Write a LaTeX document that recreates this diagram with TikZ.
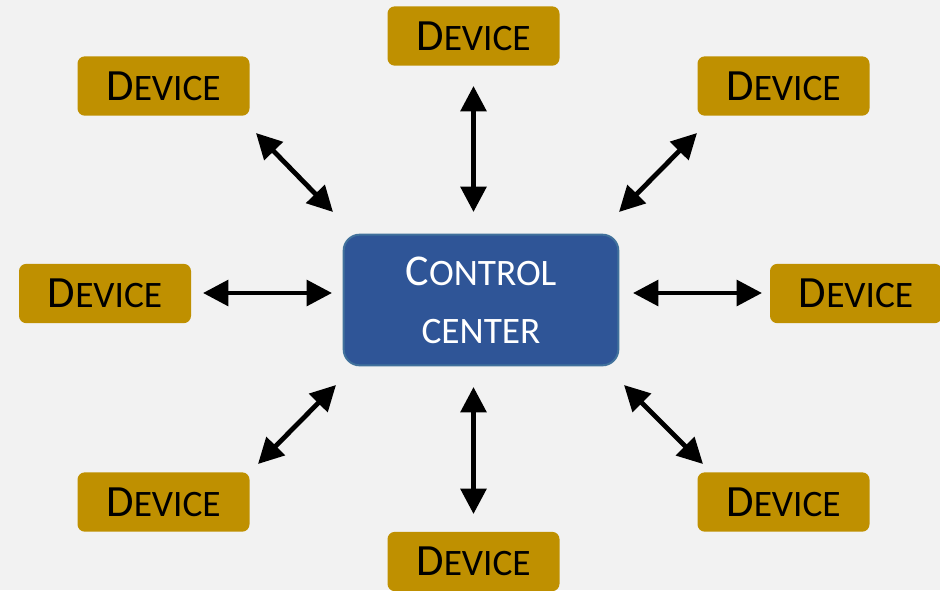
\documentclass[tikz,border=0pt]{standalone}
\usepackage{fontspec}
\setmainfont{Carlito}
\usetikzlibrary{arrows.meta}
\definecolor{bg}{HTML}{F2F2F2}
\definecolor{gold}{HTML}{BF9000}
\definecolor{ccfill}{HTML}{2F5597}
\definecolor{ccdraw}{HTML}{41719C}
\newcommand\devtext{{\fontsize{33.5}{40}\selectfont D}{\fontsize{28}{40}\selectfont EVICE}}
\begin{document}
\begin{tikzpicture}[x=0.75pt,y=-0.75pt,
  dev/.style={fill=gold, rounded corners=5.5pt, minimum width=129pt, minimum height=44.5pt, inner sep=0pt, text=black},
  ccbox/.style={fill=ccfill, draw=ccdraw, line width=1.5pt, rounded corners=12pt, minimum width=206pt, minimum height=98pt, inner sep=0pt, text=white, align=center, font=\fontsize{33}{43.5}\selectfont},
  link/.style={line width=3.6pt, {Triangle[length=19pt,width=19pt]}-{Triangle[length=19pt,width=19pt]}}]
\useasboundingbox (0,0) rectangle (940,590);
\clip (0,0) rectangle (940,590);
\fill[bg] (0,0) rectangle (940,590);
% control center
\node[ccbox] (cc) at (481,300) {C{\fontsize{28}{43.5}\selectfont ONTROL}\\{\fontsize{28}{43.5}\selectfont CENTER}};
% devices
\node[dev] (dt)  at (473.5,36)   {\devtext};
\node[dev] (dtl) at (163.5,86)   {\devtext};
\node[dev] (dtr) at (783.5,86)   {\devtext};
\node[dev] (dl)  at (105,293.5)  {\devtext};
\node[dev] (dr)  at (856,293.5)  {\devtext};
\node[dev] (dbl) at (163.5,502)  {\devtext};
\node[dev] (dbr) at (783.5,502)  {\devtext};
\node[dev] (db)  at (473.5,561.5){\devtext};
% arrow ends
\coordinate (t1) at (473.5,86);   \coordinate (t2) at (473.5,212);
\coordinate (b1) at (473.5,387);  \coordinate (b2) at (473.5,514);
\coordinate (l1) at (203,293);    \coordinate (l2) at (332,293);
\coordinate (r1) at (633,293);    \coordinate (r2) at (762,293);
\coordinate (tl1) at (256,133);   \coordinate (tl2) at (333,212);
\coordinate (tr1) at (697,133);   \coordinate (tr2) at (619,212);
\coordinate (bl1) at (336,385);   \coordinate (bl2) at (258,464);
\coordinate (br1) at (624,385);   \coordinate (br2) at (703,464);
\draw[link] (t1) -- (t2);
\draw[link] (b1) -- (b2);
\draw[link] (l1) -- (l2);
\draw[link] (r1) -- (r2);
\draw[link] (tl1) -- (tl2);
\draw[link] (tr1) -- (tr2);
\draw[link] (bl1) -- (bl2);
\draw[link] (br1) -- (br2);
\end{tikzpicture}
\end{document}
